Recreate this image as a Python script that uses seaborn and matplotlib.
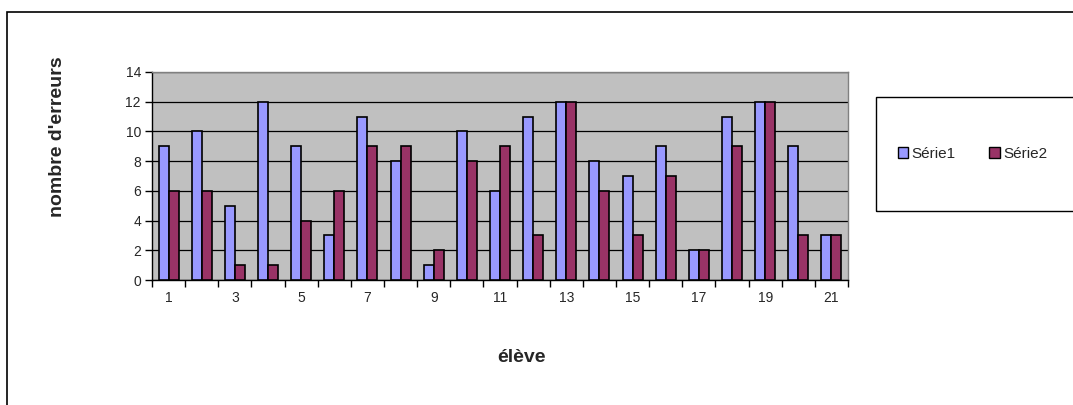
import matplotlib
matplotlib.use("Agg")
import matplotlib.pyplot as plt
import matplotlib.patches as mpatches
from matplotlib.ticker import FixedLocator, NullFormatter
import seaborn as sns
import pandas as pd

eleves = list(range(1, 22))
serie1 = [9, 10, 5, 12, 9, 3, 11, 8, 1, 10, 6, 11, 12, 8, 7, 9, 2, 11, 12, 9, 3]
serie2 = [6, 6, 1, 1, 4, 6, 9, 9, 2, 8, 9, 3, 12, 6, 3, 7, 2, 9, 12, 3, 3]
series_names = ["Série1", "Série2"]
colors = ["#9999FF", "#993366"]

df = pd.DataFrame({
    "élève": [str(e) for e in eleves] * 2,
    "valeur": serie1 + serie2,
    "série": [series_names[0]] * len(eleves) + [series_names[1]] * len(eleves),
})

sns.set_style("white")
plt.rcParams["font.family"] = ["Liberation Sans", "DejaVu Sans"]

fig = plt.figure(figsize=(10.73, 4.05), dpi=100)
ax = fig.add_axes([152 / 1073, 1 - 280 / 405, (848 - 152) / 1073, (280 - 72) / 405])

sns.barplot(data=df, x="élève", y="valeur", hue="série", palette=colors,
            width=0.6, edgecolor="black", linewidth=1.2, ax=ax, legend=False,
            saturation=1, zorder=3)

ax.set_facecolor("#C0C0C0")
ax.set_ylim(0, 14)
ax.set_yticks(range(0, 15, 2))
ax.yaxis.grid(True, color="black", linewidth=0.9, zorder=0)
ax.set_axisbelow(True)
ax.set_xlim(-0.5, len(eleves) - 0.5)

labels = [str(e) if e % 2 == 1 else "" for e in eleves]
ax.set_xticks(range(len(eleves)))
ax.set_xticklabels(labels, fontsize=10)
ax.tick_params(axis="x", which="major", length=0, pad=8)
ax.xaxis.set_minor_locator(FixedLocator([i - 0.5 for i in range(len(eleves) + 1)]))
ax.xaxis.set_minor_formatter(NullFormatter())
ax.tick_params(axis="x", which="minor", length=5, width=1, color="black", direction="out", bottom=True)
ax.tick_params(axis="y", length=5, width=1, color="black", direction="out", left=True, labelsize=10, pad=3)

for side in ["top", "right"]:
    ax.spines[side].set_color("#808080")
    ax.spines[side].set_linewidth(1)
for side in ["left", "bottom"]:
    ax.spines[side].set_color("black")
    ax.spines[side].set_linewidth(1)

ax.set_xlabel("élève", fontsize=14, fontweight="bold")
ax.xaxis.label.set_va("center")
ax.xaxis.set_label_coords((522 - 152) / 696, (280 - 357) / 208)
ax.set_ylabel("nombre d'erreurs", fontsize=14, fontweight="bold")
ax.yaxis.label.set_va("center")
ax.yaxis.set_label_coords((58 - 152) / 696, (280 - 137) / 208)

# outer chart frame
fig.patches.append(mpatches.Rectangle((7 / 1073, -0.05), 1.1, 1 - 12 / 405 + 0.05,
                                      transform=fig.transFigure, fill=False,
                                      edgecolor="black", linewidth=1.2))
# legend frame
fig.patches.append(mpatches.Rectangle((876 / 1073, 1 - 211 / 405), 0.3, (211 - 97) / 405,
                                      transform=fig.transFigure, fill=False,
                                      edgecolor="black", linewidth=1))
handles = [mpatches.Patch(facecolor=c, edgecolor="black", linewidth=1, label=n)
           for c, n in zip(colors, series_names)]
fig.legend(handles=handles, ncol=2, frameon=False, loc="center left",
           bbox_to_anchor=(884 / 1073, 1 - 154 / 405), fontsize=11,
           handlelength=0.7, handleheight=0.7, handletextpad=0.2, columnspacing=2.2)

fig.savefig("out.png", dpi=100)
